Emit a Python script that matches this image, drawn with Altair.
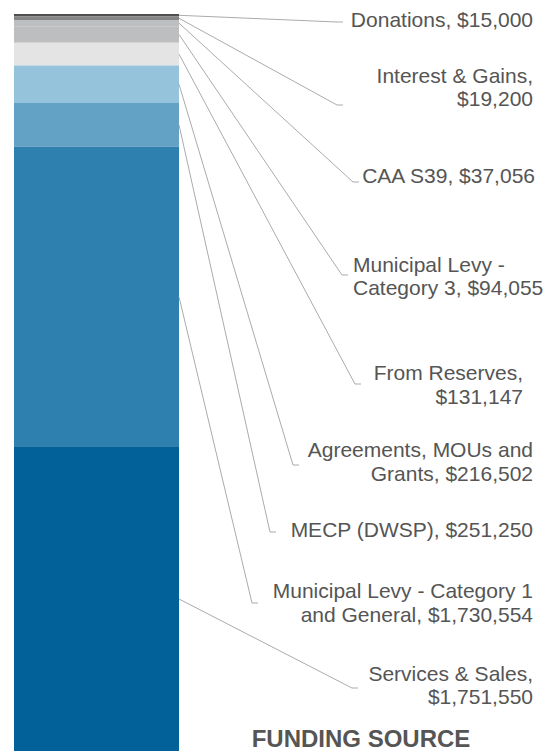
import altair as alt
import pandas as pd

# ---- data ----
categories = ["Donations", "Interest & Gains", "CAA S39", "Municipal Levy - Category 3",
              "From Reserves", "Agreements, MOUs and Grants", "MECP (DWSP)",
              "Municipal Levy - Category 1 and General", "Services & Sales"]
values = [15000, 19200, 37056, 94055, 131147, 216502, 251250, 1730554, 1751550]
label_lines = [["Donations, $15,000"],
               ["Interest & Gains,", "$19,200"],
               ["CAA S39, $37,056"],
               ["Municipal Levy -", "Category 3, $94,055"],
               ["From Reserves,", "$131,147"],
               ["Agreements, MOUs and", "Grants, $216,502"],
               ["MECP (DWSP), $251,250"],
               ["Municipal Levy - Category 1", "and General, $1,730,554"],
               ["Services & Sales,", "$1,751,550"]]
title_text = "FUNDING SOURCE"

# ---- styles / layout (page pixels) ----
colors = ["#4f4f4f", "#858585", "#bdbec0", "#bdbec0", "#e4e4e4",
          "#94c3db", "#64a2c5", "#2e80ae", "#03619a"]
label_align = ["right", "right", "right", "left", "right", "right", "right", "right", "right"]
label_x = [533, 533, 535, 353, 523, 533, 533, 533, 533]
label_base = [[27], [83, 106], [183], [272, 295], [380, 404], [457, 481], [537], [598, 622], [681, 704]]
elbow = [(337, 22), (337, 105), (353, 182), (342, 275), (355, 384),
         (293, 465), (270, 532), (252, 603), (352, 688)]
hook = 6
OX, OY = 14, 14          # plot origin on page
PAD_TOP = 2              # page renders ~4px lower than the nominal offset
BAR_W = 165
W, H = 531, 737

total = sum(values)


def to_units(py):
    return (py - OY) / H * total


# bar table
rows = []
acc = 0
for i, (c, v) in enumerate(zip(categories, values)):
    rows.append({"cat": c, "start": acc, "end": acc + v, "mid": acc + v / 2, "idx": i})
    acc += v
bars = pd.DataFrame(rows)

# leader lines
lrows = []
for i, r in bars.iterrows():
    ex, ey = elbow[i]
    lrows.append({"cat": r["cat"], "o": 0, "x": BAR_W, "y": r["mid"]})
    lrows.append({"cat": r["cat"], "o": 1, "x": ex - OX, "y": to_units(ey)})
    lrows.append({"cat": r["cat"], "o": 2, "x": ex - OX + hook, "y": to_units(ey)})
leaders = pd.DataFrame(lrows)

# text lines
trows = []
for i, lines in enumerate(label_lines):
    for j, t in enumerate(lines):
        trows.append({"text": t, "x": label_x[i] - OX, "y": to_units(label_base[i][j]),
                      "align": label_align[i]})
texts = pd.DataFrame(trows)

yscale = alt.Scale(domain=[0, total], reverse=True, nice=False, zero=False)

bar = alt.Chart(bars).mark_bar(stroke=None).encode(
    x=alt.value(0), x2=alt.value(BAR_W),
    y=alt.Y("start:Q", scale=yscale, axis=None),
    y2="end:Q",
    color=alt.Color("cat:N", scale=alt.Scale(domain=categories, range=colors), legend=None),
)

lines_layer = alt.Chart(leaders).mark_line(color="#ababab", strokeWidth=1).encode(
    x=alt.X("x:Q", scale=None, axis=None),
    y=alt.Y("y:Q", scale=yscale, axis=None),
    detail="cat:N",
    order="o:Q",
)

text_common = dict(font="Liberation Sans", fontSize=21, color="#555555", baseline="alphabetic")
text_r = alt.Chart(texts).transform_filter(alt.datum.align == "right").mark_text(
    align="right", **text_common).encode(
    x=alt.X("x:Q", scale=None, axis=None),
    y=alt.Y("y:Q", scale=yscale, axis=None),
    text="text:N",
)
text_l = alt.Chart(texts).transform_filter(alt.datum.align == "left").mark_text(
    align="left", **text_common).encode(
    x=alt.X("x:Q", scale=None, axis=None),
    y=alt.Y("y:Q", scale=yscale, axis=None),
    text="text:N",
)

title_df = pd.DataFrame([{"text": title_text, "x": 361 - OX, "y": to_units(747)}])
title_layer = alt.Chart(title_df).mark_text(
    align="center", baseline="alphabetic", font="Liberation Sans", fontSize=24,
    fontWeight="bold", color="#555555").encode(
    x=alt.X("x:Q", scale=None, axis=None),
    y=alt.Y("y:Q", scale=yscale, axis=None),
    text="text:N",
)

chart = alt.layer(bar, lines_layer, text_r, text_l, title_layer).properties(
    width=W, height=H,
    padding={"left": OX - 8, "top": PAD_TOP, "right": 0, "bottom": 0},
    background="white",
).configure_view(stroke=None)

chart.save("out.html", embed_options={"renderer": "svg", "actions": False})
